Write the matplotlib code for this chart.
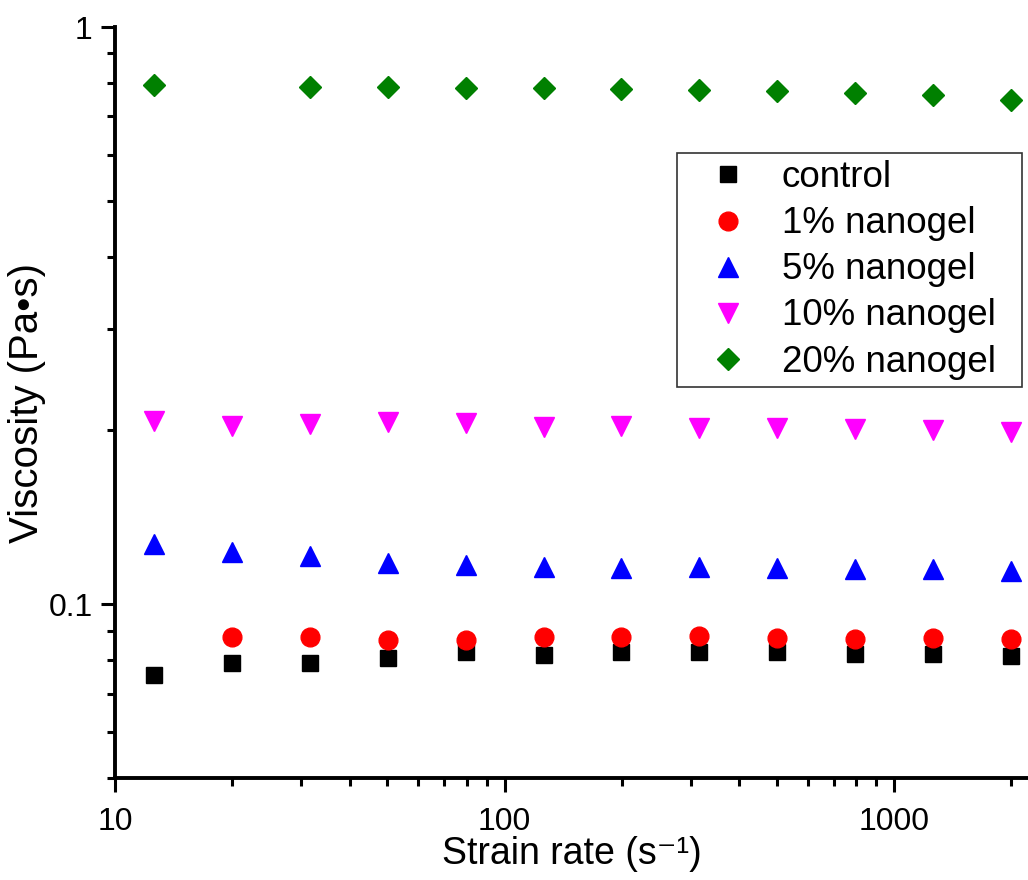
import matplotlib
matplotlib.use("Agg")
import matplotlib.pyplot as plt
from matplotlib.ticker import LogLocator, NullFormatter

plt.rcParams['font.family'] = ['Liberation Sans', 'DejaVu Sans']

strain_rate = [12.59, 19.95, 31.62, 50.12, 79.43, 125.9, 199.5, 316.2, 501.2, 794.3, 1259, 1995]

control = [0.0753, 0.0790, 0.0790, 0.0808, 0.0825, 0.0818, 0.0825, 0.0825, 0.0825, 0.0821, 0.0821, 0.0815]
nano1_x = strain_rate[1:]
nano1 = [0.0877, 0.0877, 0.0867, 0.0867, 0.0877, 0.0877, 0.0880, 0.0873, 0.0870, 0.0873, 0.0870]
nano5 = [0.127, 0.123, 0.121, 0.118, 0.117, 0.116, 0.1155, 0.116, 0.1155, 0.115, 0.115, 0.114]
nano10 = [0.208, 0.204, 0.205, 0.207, 0.206, 0.203, 0.204, 0.202, 0.202, 0.201, 0.200, 0.199]
nano20_x = [strain_rate[0]] + strain_rate[2:]
nano20 = [0.793, 0.787, 0.787, 0.784, 0.784, 0.780, 0.777, 0.774, 0.768, 0.762, 0.747]

labels = ['control', '1% nanogel', '5% nanogel', '10% nanogel', '20% nanogel']

fig = plt.figure(figsize=(10.28, 8.8), dpi=100)
ax = fig.add_axes([0.1119, 0.1159, 1 - 0.1119, 0.8534])

ax.plot(strain_rate, control, ls='none', marker='s', ms=12, color='black', label=labels[0])
ax.plot(nano1_x, nano1, ls='none', marker='o', ms=13.5, color='#ff0000', label=labels[1])
ax.plot(strain_rate, nano5, ls='none', marker='^', ms=14, color='#0000ff', label=labels[2])
ax.plot(strain_rate, nano10, ls='none', marker='v', ms=14, color='#ff00ff', label=labels[3])
ax.plot(nano20_x, nano20, ls='none', marker='D', ms=11, color='#008000', label=labels[4])

ax.set_xscale('log')
ax.set_yscale('log')
ax.set_xlim(10, 2205)
ax.set_ylim(0.05, 1)

ax.set_xticks([10, 100, 1000])
ax.set_xticklabels(['10', '100', '1000'])
ax.xaxis.set_minor_locator(LogLocator(base=10, subs=range(2, 10), numticks=20))
ax.xaxis.set_minor_formatter(NullFormatter())
ax.set_yticks([0.1, 1])
ax.set_yticklabels(['0.1', '1'])
ax.yaxis.set_minor_locator(LogLocator(base=10, subs=range(2, 10), numticks=20))
ax.yaxis.set_minor_formatter(NullFormatter())

for s in ['top', 'right']:
    ax.spines[s].set_visible(False)
for s in ['left', 'bottom']:
    ax.spines[s].set_linewidth(2.8)

ax.tick_params(which='major', direction='out', length=10, width=2.2, labelsize=23)
ax.tick_params(which='minor', direction='out', length=6, width=2.2)
ax.tick_params(axis='x', which='major', pad=11)
ax.tick_params(axis='y', which='major', pad=6)

ax.set_xlabel('Strain rate (s\u207b\u00b9)', fontsize=27, labelpad=-1)
ax.set_ylabel('Viscosity (Pa\u2022s)', fontsize=29, labelpad=2)

x0 = 677 / 1028
y_top = 1 - 153 / 880
y_bot = 1 - 380 / 880
leg = fig.legend(loc='upper left', bbox_to_anchor=(x0, y_bot, 1022 / 1028 - x0, y_top - y_bot),
                 mode='expand', fontsize=26.5,
                 frameon=True, fancybox=False, edgecolor='#333333', framealpha=1,
                 borderaxespad=0, labelspacing=0.3, handletextpad=0.3, borderpad=0.2,
                 handlelength=2.35)
leg.get_frame().set_linewidth(1.2)

fig.savefig('out.png', dpi=100)
